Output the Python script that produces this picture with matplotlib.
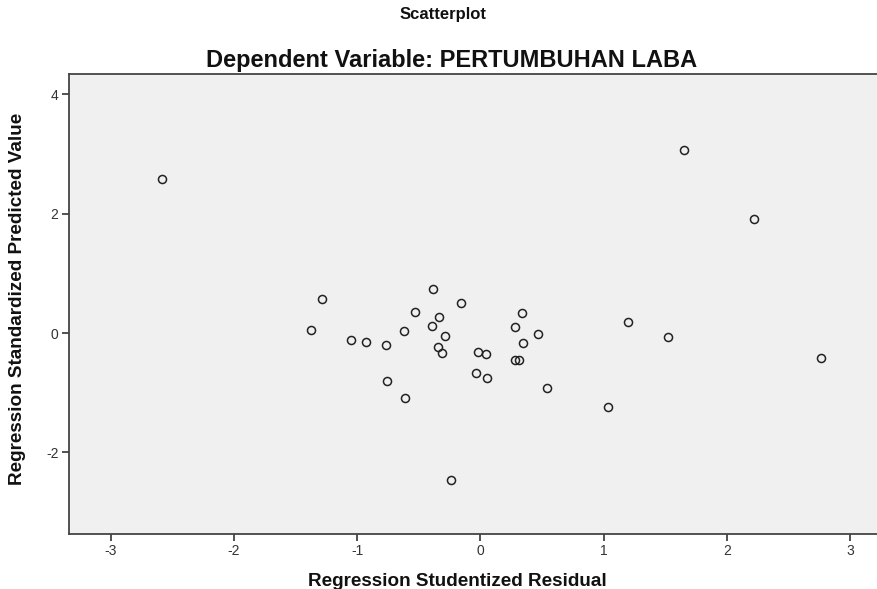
import matplotlib
matplotlib.use("Agg")
import matplotlib.pyplot as plt

plt.rcParams['font.family'] = ['Liberation Sans', 'DejaVu Sans']
plt.rcParams['axes.unicode_minus'] = False

residual = [-2.586, 1.656, 2.219, 0.338, 0.284, 0.471, 0.349, 0.279, 0.317,
            0.541, 1.034, 1.199, 1.526, 2.765, -1.290, -1.374, -1.052, -0.928,
            -0.763, -0.760, -0.609, -0.617, -0.530, -0.381, -0.154, -0.335,
            -0.395, -0.289, -0.341, -0.308, -0.016, 0.044, -0.037, 0.054, -0.240]
predicted = [2.580, 3.075, 1.920, 0.345, 0.110, -0.007, -0.168, -0.452, -0.452,
             -0.920, -1.246, 0.184, -0.067, -0.414, 0.569, 0.055, -0.117, -0.151,
             -0.201, -0.804, -1.084, 0.033, 0.362, 0.737, 0.513, 0.268,
             0.111, -0.045, -0.241, -0.335, -0.313, -0.352, -0.665, -0.754, -2.460]

x_ticks = [-3, -2, -1, 0, 1, 2, 3]
y_ticks = [-2, 0, 2, 4]

W, H = 878, 589
fig = plt.figure(figsize=(W / 100, H / 100), dpi=100)
ax = fig.add_axes([69 / W, 1 - 534 / H, (W - 69) / W, (534 - 74) / H])
ax.set_facecolor('#F0F0F0')

ax.plot(residual, predicted, linestyle='none', marker='o', markersize=5.8,
        markerfacecolor='none', markeredgecolor='#222222', markeredgewidth=1.1)

ax.set_xlim(-3.34, 3.228)
ax.set_ylim(-3.367, 4.343)
ax.set_xticks(x_ticks)
ax.set_yticks(y_ticks)
ax.set_xticklabels([str(v) for v in x_ticks])
ax.set_yticklabels([str(v) for v in y_ticks])
ax.tick_params(direction='out', length=5, width=1.2, colors='#333333',
               labelsize=10, pad=2.5)

for s in ['left', 'bottom', 'top']:
    ax.spines[s].set_color('#444444')
    ax.spines[s].set_linewidth(1.3)
ax.spines['right'].set_visible(False)

fig.text(443 / W, 1 - 19 / H, 'Scatterplot', ha='center', va='baseline',
         fontsize=12, fontweight='bold', color='#111111')
fig.text(452 / W, 1 - 67 / H, 'Dependent Variable: PERTUMBUHAN LABA', ha='center',
         va='baseline', fontsize=17, fontweight='bold', color='#111111')
fig.text(457 / W, 1 - 586 / H, 'Regression Studentized Residual', ha='center',
         va='baseline', fontsize=13.6, fontweight='bold', color='#111111')
fig.text(18 / W, 1 - 299 / H, 'Regression Standardized Predicted Value',
         ha='center', va='center', rotation=90, fontsize=13.6,
         fontweight='bold', color='#111111')

fig.savefig('out.png', dpi=100)
